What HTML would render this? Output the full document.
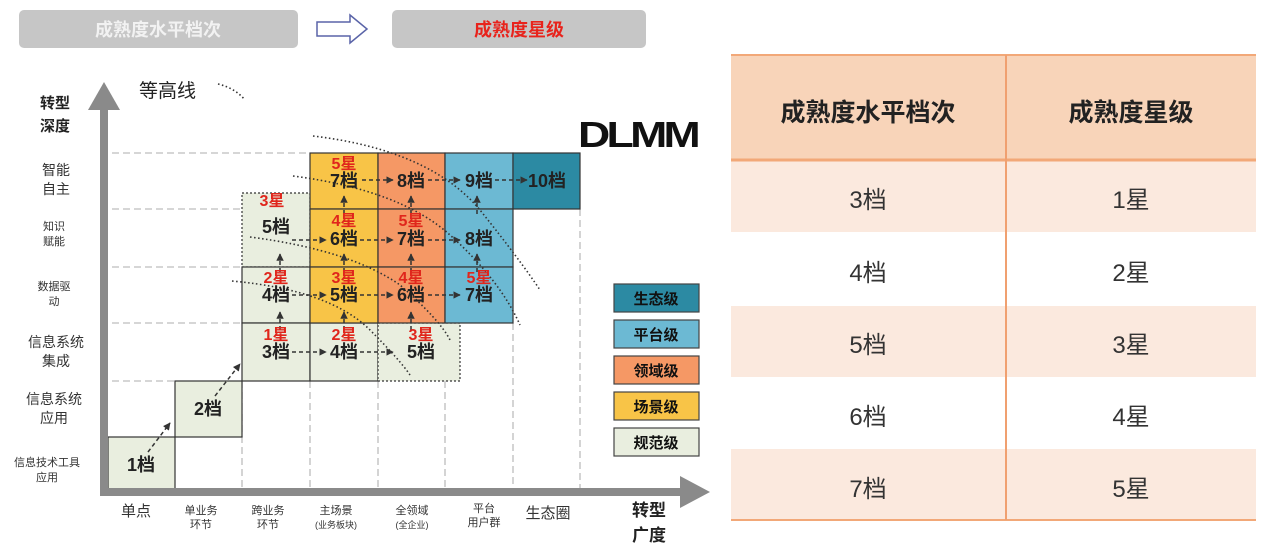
<!DOCTYPE html>
<html><head><meta charset="utf-8"><style>
html,body{margin:0;padding:0;background:#fff;}
svg{display:block;font-family:"Liberation Sans","Noto Sans CJK SC",sans-serif;}
.b{font-weight:bold;}
</style></head><body>
<svg width="1269" height="555" viewBox="0 0 1269 555" xmlns="http://www.w3.org/2000/svg">
<defs>
<marker id="ah" viewBox="0 0 10 10" refX="9" refY="5" markerWidth="5" markerHeight="5" orient="auto"><path d="M0,0 L10,5 L0,10 z" fill="#333"/></marker>
</defs>
<rect x="19" y="10" width="279" height="38" rx="5" fill="#c6c6c6"/>
<text x="158" y="36" text-anchor="middle" font-size="18" class="b" fill="#f2f2f2">成熟度水平档次</text>
<path d="M317,22 H350 V15 L367,29 L350,43 V36 H317 Z" fill="#fff" stroke="#5a64a8" stroke-width="1.5"/>
<rect x="392" y="10" width="254" height="38" rx="5" fill="#c6c6c6"/>
<text x="519" y="36" text-anchor="middle" font-size="18" class="b" fill="#e8231c">成熟度星级</text>

<g stroke="#bdbdbd" stroke-width="1.3" stroke-dasharray="7,4" fill="none">
<line x1="112" y1="153" x2="310" y2="153"/>
<line x1="112" y1="209" x2="242" y2="209"/>
<line x1="112" y1="267" x2="242" y2="267"/>
<line x1="112" y1="323" x2="242" y2="323"/>
<line x1="112" y1="381" x2="175" y2="381"/>
<line x1="242" y1="381" x2="242" y2="490"/>
<line x1="310" y1="381" x2="310" y2="490"/>
<line x1="378" y1="381" x2="378" y2="490"/>
<line x1="445" y1="381" x2="445" y2="490"/>
<line x1="513" y1="323" x2="513" y2="490"/>
<line x1="580" y1="209" x2="580" y2="490"/>
</g>

<g stroke="#333" stroke-width="1.2">
<rect x="108" y="437" width="67" height="56" fill="#e9eedf"/>
<rect x="175" y="381" width="67" height="56" fill="#e9eedf"/>
<rect x="242" y="193" width="68" height="74" fill="#e9eedf" stroke-dasharray="2,2"/>
<rect x="242" y="267" width="68" height="56" fill="#e9eedf"/>
<rect x="242" y="323" width="68" height="58" fill="#e9eedf"/>
<rect x="310" y="323" width="68" height="58" fill="#e9eedf"/>
<rect x="378" y="323" width="82" height="58" fill="#e9eedf" stroke-dasharray="2,2"/>
<rect x="310" y="153" width="68" height="56" fill="#f8c447"/>
<rect x="310" y="209" width="68" height="58" fill="#f8c447"/>
<rect x="310" y="267" width="68" height="56" fill="#f8c447"/>
<rect x="378" y="153" width="67" height="56" fill="#f59865"/>
<rect x="378" y="209" width="67" height="58" fill="#f59865"/>
<rect x="378" y="267" width="67" height="56" fill="#f59865"/>
<rect x="445" y="153" width="68" height="56" fill="#6cb9d3"/>
<rect x="445" y="209" width="68" height="58" fill="#6cb9d3"/>
<rect x="445" y="267" width="68" height="56" fill="#6cb9d3"/>
<rect x="513" y="153" width="67" height="56" fill="#2c8aa3"/>
</g>

<g stroke="#333" stroke-width="1.6" stroke-dasharray="1.5,2.5" fill="none">
<path d="M313,136 Q430,150 480,210 Q520,260 540,290"/>
<path d="M293,176 Q400,190 450,235 Q500,280 520,325"/>
<path d="M250,237 Q350,250 400,285 Q440,320 450,340"/>
<path d="M232,281 Q330,290 370,330 Q400,360 410,375"/>
<path d="M218,84 Q235,88 245,100"/>
</g>

<g stroke="#333" stroke-width="1.5" stroke-dasharray="4,3" fill="none" marker-end="url(#ah)">
<line x1="148" y1="452" x2="170" y2="423"/>
<line x1="215" y1="396" x2="240" y2="364"/>
<line x1="292" y1="352" x2="326" y2="352"/>
<line x1="360" y1="352" x2="393" y2="352"/>
<line x1="292" y1="295" x2="326" y2="295"/>
<line x1="360" y1="295" x2="393" y2="295"/>
<line x1="428" y1="295" x2="460" y2="295"/>
<line x1="292" y1="240" x2="326" y2="240"/>
<line x1="360" y1="240" x2="393" y2="240"/>
<line x1="428" y1="240" x2="460" y2="240"/>
<line x1="362" y1="180" x2="393" y2="180"/>
<line x1="428" y1="180" x2="460" y2="180"/>
<line x1="495" y1="180" x2="527" y2="180"/>
<line x1="280" y1="330" x2="280" y2="312"/>
<line x1="344" y1="330" x2="344" y2="312"/>
<line x1="411" y1="330" x2="411" y2="312"/>
<line x1="280" y1="272" x2="280" y2="254"/>
<line x1="344" y1="272" x2="344" y2="254"/>
<line x1="411" y1="272" x2="411" y2="254"/>
<line x1="477" y1="272" x2="477" y2="254"/>
<line x1="344" y1="214" x2="344" y2="196"/>
<line x1="411" y1="214" x2="411" y2="196"/>
<line x1="477" y1="214" x2="477" y2="196"/>
</g>

<g font-size="18" class="b" fill="#222" text-anchor="middle">
<text x="141" y="471">1档</text>
<text x="208" y="415">2档</text>
<text x="276" y="358">3档</text>
<text x="344" y="358">4档</text>
<text x="421" y="358">5档</text>
<text x="276" y="301">4档</text>
<text x="344" y="301">5档</text>
<text x="411" y="301">6档</text>
<text x="479" y="301">7档</text>
<text x="276" y="233">5档</text>
<text x="344" y="245">6档</text>
<text x="411" y="245">7档</text>
<text x="479" y="245">8档</text>
<text x="344" y="187">7档</text>
<text x="411" y="187">8档</text>
<text x="479" y="187">9档</text>
<text x="547" y="187">10档</text>
</g>
<g font-size="16" class="b" fill="#e0261c" text-anchor="middle">
<text x="276" y="340">1星</text>
<text x="344" y="340">2星</text>
<text x="421" y="340">3星</text>
<text x="276" y="283">2星</text>
<text x="344" y="283">3星</text>
<text x="411" y="283">4星</text>
<text x="479" y="283">5星</text>
<text x="272" y="206">3星</text>
<text x="344" y="226">4星</text>
<text x="411" y="226">5星</text>
<text x="344" y="169">5星</text>
</g>

<rect x="100" y="98" width="8" height="396" fill="#8a8a8a"/>
<path d="M88,110 L104,82 L120,110 Z" fill="#8a8a8a"/>
<rect x="100" y="488" width="590" height="8" fill="#8a8a8a"/>
<path d="M680,476 L710,492 L680,508 Z" fill="#8a8a8a"/>

<text x="139" y="97" font-size="19" fill="#222">等高线</text>
<text x="40" y="108" font-size="15" class="b" fill="#222">转型</text>
<text x="40" y="131" font-size="15" class="b" fill="#222">深度</text>
<g font-size="14" fill="#333" text-anchor="middle">
<text x="56" y="175">智能</text><text x="56" y="194">自主</text>
<text x="54" y="230" font-size="11">知识</text><text x="54" y="245" font-size="11">赋能</text>
<text x="54" y="290" font-size="11">数据驱</text><text x="54" y="305" font-size="11">动</text>
<text x="56" y="347">信息系统</text><text x="56" y="366">集成</text>
<text x="54" y="404">信息系统</text><text x="54" y="423">应用</text>
<text x="47" y="466" font-size="11">信息技术工具</text><text x="47" y="481" font-size="11">应用</text>
<text x="136" y="516" font-size="15">单点</text>
<text x="201" y="514" font-size="11">单业务</text><text x="201" y="528" font-size="11">环节</text>
<text x="268" y="514" font-size="11">跨业务</text><text x="268" y="528" font-size="11">环节</text>
<text x="336" y="514" font-size="11">主场景</text><text x="336" y="528" font-size="9">(业务板块)</text>
<text x="412" y="514" font-size="11">全领域</text><text x="412" y="528" font-size="9">(全企业)</text>
<text x="484" y="512" font-size="11">平台</text><text x="484" y="526" font-size="11">用户群</text>
<text x="548" y="518" font-size="15">生态圈</text>
</g>
<text x="632" y="516" font-size="17" class="b" fill="#222">转型</text>
<text x="632" y="541" font-size="17" class="b" fill="#222">广度</text>
<text x="578" y="147" font-size="36" font-weight="900" fill="#111" letter-spacing="-3" textLength="119" lengthAdjust="spacingAndGlyphs">DLMM</text>

<g stroke="#444" stroke-width="1.2" font-size="15" class="b">
<rect x="614" y="284" width="85" height="28" fill="#2c8aa3"/>
<rect x="614" y="320" width="85" height="28" fill="#6cb9d3"/>
<rect x="614" y="356" width="85" height="28" fill="#f59865"/>
<rect x="614" y="392" width="85" height="28" fill="#f8c447"/>
<rect x="614" y="428" width="85" height="28" fill="#e9eedf"/>
</g>
<g font-size="15" class="b" fill="#111" text-anchor="middle">
<text x="656" y="304">生态级</text><text x="656" y="340">平台级</text><text x="656" y="376">领域级</text><text x="656" y="412">场景级</text><text x="656" y="448">规范级</text>
</g>

<rect x="731" y="55" width="525" height="105" fill="#f8d4b9"/>
<rect x="731" y="160" width="525" height="72" fill="#fbe9de"/>
<rect x="731" y="306" width="525" height="71" fill="#fbe9de"/>
<rect x="731" y="449" width="525" height="71" fill="#fbe9de"/>
<line x1="731" y1="55" x2="1256" y2="55" stroke="#f2a878" stroke-width="2"/>
<line x1="731" y1="160" x2="1256" y2="160" stroke="#f2a878" stroke-width="3"/>
<line x1="731" y1="520" x2="1256" y2="520" stroke="#f2a878" stroke-width="2"/>
<line x1="1006" y1="55" x2="1006" y2="520" stroke="#f0a070" stroke-width="2"/>
<g font-size="25" class="b" fill="#222" text-anchor="middle">
<text x="868" y="121">成熟度水平档次</text><text x="1131" y="121">成熟度星级</text>
</g>
<g font-size="24" fill="#333" text-anchor="middle">
<text x="868" y="208">3档</text><text x="1131" y="208">1星</text>
<text x="868" y="281">4档</text><text x="1131" y="281">2星</text>
<text x="868" y="353">5档</text><text x="1131" y="353">3星</text>
<text x="868" y="425">6档</text><text x="1131" y="425">4星</text>
<text x="868" y="497">7档</text><text x="1131" y="497">5星</text>
</g>
</svg>
</body></html>
